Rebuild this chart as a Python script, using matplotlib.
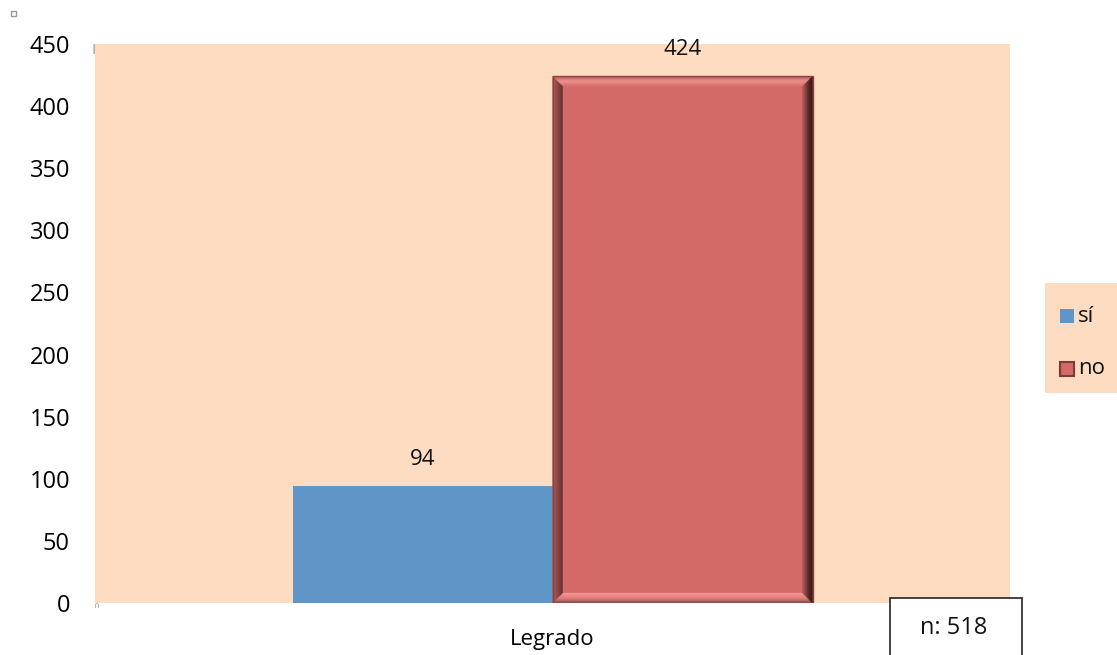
import matplotlib
matplotlib.use("Agg")
import matplotlib.pyplot as plt
import numpy as np
from matplotlib.colors import to_rgb
from matplotlib.patches import Polygon, Rectangle

plt.rcParams['font.family'] = ['Open Sans', 'DejaVu Sans']

category = "Legrado"
series = ["sí", "no"]
values = [94, 424]
colors = ["#6095c7", "#d46a67"]
yticks = [0, 50, 100, 150, 200, 250, 300, 350, 400, 450]
sample_note = "n: 518"

W, H = 1117, 655
fig = plt.figure(figsize=(W / 100, H / 100), dpi=100)
ax_l, ax_b, ax_r, ax_t = 95, 603, 1010, 44
ax = fig.add_axes([ax_l / W, 1 - ax_b / H, (ax_r - ax_l) / W, (ax_b - ax_t) / H])
ax.set_facecolor("#fddcc2")
for s in ax.spines.values():
    s.set_visible(False)

px_x = 1.0 / (ax_r - ax_l)
px_y = 450.0 / (ax_b - ax_t)

bw = 260 * px_x
offsets = [-bw / 2, bw / 2]
bars = []
for off, v, c, name in zip(offsets, values, colors, series):
    b = ax.bar(off, v, width=bw, color=c, label=name, zorder=2)
    bars.append(b[0])
    ax.text(off, v + 27 * px_y, str(v), ha="center", va="center", fontsize=16,
            color="#111111")

ax.set_xlim(-0.5, 0.5)
ax.set_ylim(0, 450)
ax.set_yticks(yticks)
ax.set_yticklabels([str(t) for t in yticks], fontsize=17)
ax.tick_params(axis="y", length=0, pad=18)
ax.set_xticks([0])
ax.set_xticklabels([category], fontsize=16)
ax.tick_params(axis="x", length=0, pad=19)


def blend(c_out, c_mid, c_in, t):
    a, m, b = np.array(to_rgb(c_out)), np.array(to_rgb(c_mid)), np.array(to_rgb(c_in))
    if t < 0.5:
        return tuple(a + (m - a) * t * 2)
    return tuple(m + (b - m) * (t - 0.5) * 2)


# graded bevel frame on the second bar
bar = bars[1]
x0, y0 = bar.get_x(), bar.get_y()
x1, y1 = x0 + bar.get_width(), y0 + bar.get_height()
d = 10
sides = {
    "top": ("#b85a57", "#f39391", "#d87370"),
    "bottom": ("#8f4c49", "#e17d7a", "#f29290"),
    "left": ("#a95c59", "#8a4845", "#5e2f2c"),
    "right": ("#2a0f0e", "#5a2b28", "#a65754"),
}
for i in range(d):
    t = i / (d - 1)
    ox, oy = i * px_x, i * px_y
    ix, iy = (i + 1) * px_x, (i + 1) * px_y
    strips = {
        "top": [(x0 + ox, y1 - oy), (x1 - ox, y1 - oy), (x1 - ix, y1 - iy), (x0 + ix, y1 - iy)],
        "bottom": [(x0 + ox, y0 + oy), (x1 - ox, y0 + oy), (x1 - ix, y0 + iy), (x0 + ix, y0 + iy)],
        "left": [(x0 + ox, y0 + oy), (x0 + ox, y1 - oy), (x0 + ix, y1 - iy), (x0 + ix, y0 + iy)],
        "right": [(x1 - ox, y0 + oy), (x1 - ox, y1 - oy), (x1 - ix, y1 - iy), (x1 - ix, y0 + iy)],
    }
    for side, pts in strips.items():
        col = blend(*sides[side], t)
        ax.add_patch(Polygon(pts, closed=True, facecolor=col, edgecolor=col,
                             linewidth=0.3, zorder=3))
ax.add_patch(Rectangle((x0, y0), x1 - x0, y1 - y0, fill=False, edgecolor="#8a4542",
                       linewidth=1.0, zorder=4))

# legend panel
lx0, ly0, lx1, ly1 = 1045, 283, 1117, 393
fig.patches.append(Rectangle((lx0 / W, 1 - ly1 / H), (lx1 - lx0) / W, (ly1 - ly0) / H,
                             transform=fig.transFigure, facecolor="#fddcc2", edgecolor="none"))
for (yc, name, col) in [(316, series[0], colors[0]), (369, series[1], colors[1])]:
    fig.patches.append(Rectangle((1060 / W, 1 - (yc + 7) / H), 14 / W, 14 / H,
                                 transform=fig.transFigure, facecolor=col,
                                 edgecolor="#7a3c39" if name == "no" else "none", lw=1.5))
    fig.text(1078 / W, 1 - yc / H, name, ha="left", va="center", fontsize=16, color="#111111")

# sample size box
fig.patches.append(Rectangle((890 / W, 1 - 660 / H), 132 / W, 62 / H,
                             transform=fig.transFigure, facecolor="white", edgecolor="#222222",
                             lw=1.2, zorder=5))
fig.text(954 / W, 1 - 628 / H, sample_note, ha="center", va="center", fontsize=17,
         color="#111111", zorder=6)

# small frame handles
fig.patches.append(Rectangle((11 / W, 1 - 16 / H), 5 / W, 5 / H, transform=fig.transFigure,
                             facecolor="white", edgecolor="#999999", lw=1.0))
fig.text(94 / W, 1 - 50 / H, "I", ha="center", va="center", fontsize=11, color="#999999")
fig.text(97 / W, 1 - 606 / H, "∩", ha="center", va="center", fontsize=6, color="#999999")

fig.savefig("out.png", dpi=100)
